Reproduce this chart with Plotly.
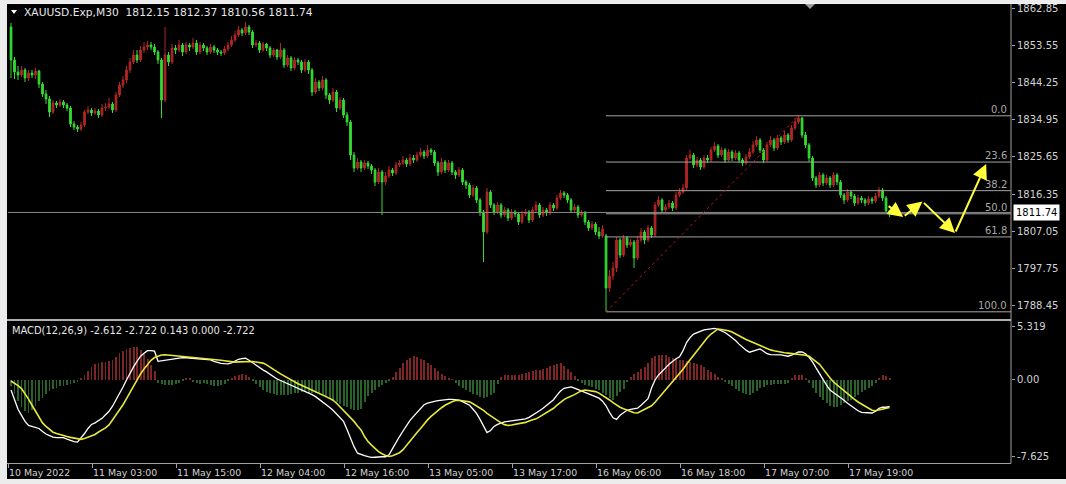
import plotly.graph_objects as go

W, H = 1066, 484

# ---------------- data ----------------
symbol = "XAUUSD.Exp,M30"
time_labels = ["10 May 2022", "11 May 03:00", "11 May 15:00", "12 May 04:00", "12 May 16:00",
               "13 May 05:00", "13 May 17:00", "16 May 06:00", "16 May 18:00", "17 May 07:00",
               "17 May 19:00"]
bars_per_label = 24

first_open = 1858.10
gap_opens = {170: 1805.85, 251: 1812.15}

closes = [
    1849.85, 1846.85, 1846.10, 1847.35, 1845.35, 1846.60, 1846.10, 1847.10, 1843.85, 1841.35,
    1840.10, 1836.85, 1839.10, 1838.60, 1839.35, 1838.60, 1837.85, 1833.85, 1833.10, 1832.60,
    1833.60, 1836.85, 1837.35, 1836.60, 1837.10, 1836.10, 1837.85, 1838.10, 1838.85, 1837.35,
    1841.10, 1843.60, 1844.85, 1847.35, 1849.35, 1851.10, 1849.85, 1852.35, 1853.10, 1853.60,
    1853.10, 1851.85, 1849.85, 1839.85, 1851.10, 1849.35, 1852.85, 1852.35, 1853.60, 1851.85,
    1853.60, 1853.10, 1854.10, 1851.85, 1853.60, 1852.85, 1851.85, 1853.10, 1852.35, 1851.85,
    1851.60, 1852.60, 1853.60, 1854.85, 1856.10, 1857.35, 1856.60, 1858.10, 1856.85, 1853.60,
    1854.10, 1852.35, 1853.85, 1852.85, 1851.10, 1852.35, 1850.60, 1852.35, 1848.60, 1850.35,
    1847.85, 1849.85, 1849.35, 1847.35, 1849.35, 1847.35, 1841.85, 1844.35, 1842.85, 1844.85,
    1841.10, 1839.85, 1841.85, 1837.85, 1839.85, 1836.10, 1834.35, 1826.10, 1822.85, 1824.35,
    1822.85, 1824.10, 1823.35, 1822.35, 1819.35, 1821.85, 1819.35, 1820.85, 1822.35, 1821.60,
    1823.60, 1824.10, 1824.85, 1823.85, 1825.35, 1824.85, 1826.10, 1826.85, 1825.85, 1827.35,
    1826.85, 1824.10, 1821.85, 1824.35, 1822.35, 1824.10, 1821.85, 1821.10, 1822.35, 1819.35,
    1818.60, 1816.10, 1817.85, 1814.85, 1811.85, 1806.85, 1816.85, 1813.60, 1811.85, 1813.60,
    1811.10, 1812.35, 1810.35, 1811.85, 1811.35, 1809.35, 1811.35, 1811.85, 1809.85, 1812.35,
    1813.60, 1811.10, 1812.35, 1811.60, 1813.60, 1812.85, 1815.35, 1816.60, 1816.10, 1814.85,
    1812.35, 1813.10, 1811.10, 1811.60, 1809.35, 1807.85, 1808.85, 1806.85, 1805.85, 1807.60,
    1792.85, 1795.85, 1797.85, 1804.85, 1801.10, 1805.35, 1803.60, 1804.35, 1800.35, 1804.85,
    1806.85, 1804.85, 1807.85, 1806.10, 1813.60, 1814.85, 1812.35, 1813.10, 1814.10, 1812.85,
    1816.10, 1816.85, 1817.85, 1825.35, 1826.10, 1823.60, 1824.85, 1823.10, 1825.35, 1824.85,
    1827.35, 1828.35, 1826.10, 1827.35, 1824.85, 1826.85, 1825.35, 1826.60, 1824.85, 1824.10,
    1825.60, 1826.85, 1828.60, 1829.85, 1827.35, 1824.85, 1828.60, 1829.85, 1827.85, 1830.35,
    1829.35, 1831.10, 1829.85, 1832.85, 1834.35, 1835.35, 1831.10, 1828.60, 1825.35, 1820.35,
    1818.60, 1821.10, 1819.10, 1820.35, 1818.60, 1821.10, 1819.35, 1816.10, 1814.85, 1816.85,
    1815.85, 1814.10, 1815.35, 1814.85, 1814.10, 1815.10, 1814.60, 1815.85, 1817.35, 1815.35,
    1812.15, 1811.74]

highs = [
    1859.10, 1850.60, 1848.35, 1848.35, 1847.85, 1847.35, 1847.35, 1847.85, 1847.35, 1844.35,
    1842.35, 1840.85, 1839.85, 1839.60, 1840.10, 1839.85, 1839.10, 1838.35, 1834.60, 1833.60,
    1834.35, 1837.35, 1838.35, 1837.85, 1837.85, 1837.60, 1838.85, 1839.10, 1840.35, 1839.35,
    1841.85, 1844.35, 1845.85, 1848.35, 1850.35, 1852.35, 1852.35, 1853.35, 1854.35, 1854.60,
    1854.35, 1853.85, 1852.35, 1850.35, 1858.10, 1851.85, 1853.85, 1853.60, 1854.85, 1854.10,
    1854.35, 1854.10, 1855.35, 1854.85, 1854.35, 1854.10, 1853.35, 1853.85, 1853.60, 1852.85,
    1852.35, 1853.35, 1854.35, 1855.85, 1857.10, 1858.35, 1857.85, 1859.35, 1858.60, 1857.35,
    1854.85, 1854.60, 1854.35, 1854.10, 1853.35, 1852.85, 1852.60, 1854.10, 1852.85, 1851.10,
    1850.85, 1850.60, 1850.35, 1849.85, 1850.10, 1849.85, 1847.85, 1845.35, 1844.85, 1845.85,
    1845.35, 1841.60, 1842.85, 1842.35, 1840.60, 1840.35, 1836.85, 1834.85, 1826.85, 1825.35,
    1824.85, 1824.85, 1824.60, 1823.85, 1822.85, 1822.85, 1822.35, 1821.85, 1823.35, 1822.85,
    1824.35, 1824.85, 1825.85, 1825.35, 1826.35, 1826.10, 1826.85, 1827.85, 1827.35, 1828.60,
    1827.85, 1827.35, 1824.60, 1825.35, 1824.85, 1824.85, 1824.60, 1822.35, 1823.10, 1822.85,
    1819.85, 1819.10, 1818.60, 1818.35, 1815.35, 1812.35, 1817.85, 1817.35, 1814.10, 1814.35,
    1814.10, 1813.10, 1812.85, 1812.60, 1812.35, 1811.85, 1812.10, 1812.60, 1812.35, 1813.10,
    1814.60, 1814.10, 1813.10, 1812.85, 1814.35, 1814.10, 1816.10, 1817.35, 1817.10, 1816.60,
    1815.35, 1813.85, 1813.60, 1812.35, 1812.10, 1809.85, 1809.60, 1809.35, 1808.10, 1808.60,
    1806.35, 1797.35, 1799.35, 1805.60, 1805.35, 1806.10, 1805.85, 1805.10, 1804.85, 1805.85,
    1807.85, 1807.35, 1808.60, 1808.35, 1814.35, 1815.85, 1815.35, 1813.85, 1814.85, 1814.60,
    1816.85, 1817.85, 1818.85, 1826.10, 1827.35, 1826.60, 1825.60, 1825.35, 1826.10, 1826.10,
    1828.10, 1829.35, 1828.85, 1828.10, 1827.85, 1827.60, 1827.35, 1827.35, 1827.10, 1825.35,
    1826.35, 1827.85, 1829.60, 1830.85, 1830.35, 1827.85, 1829.35, 1830.85, 1830.35, 1831.10,
    1830.85, 1832.10, 1831.60, 1833.60, 1835.35, 1835.90, 1835.60, 1831.85, 1829.10, 1825.85,
    1820.85, 1821.85, 1821.60, 1821.10, 1820.85, 1821.85, 1821.60, 1819.85, 1816.60, 1817.60,
    1817.35, 1816.35, 1816.10, 1815.85, 1815.35, 1815.85, 1815.60, 1816.60, 1818.10, 1817.85,
    1815.85, 1812.37]

lows = [
    1845.35, 1845.10, 1844.85, 1845.60, 1844.35, 1844.60, 1845.35, 1845.10, 1842.85, 1840.60,
    1838.85, 1835.60, 1836.35, 1837.85, 1838.10, 1837.85, 1837.10, 1833.10, 1832.35, 1831.85,
    1832.10, 1833.10, 1836.35, 1835.85, 1836.10, 1835.35, 1835.60, 1837.10, 1837.60, 1836.60,
    1836.85, 1840.60, 1842.85, 1844.10, 1846.60, 1848.85, 1849.10, 1849.35, 1851.60, 1852.35,
    1852.35, 1851.10, 1848.85, 1835.35, 1839.35, 1848.35, 1848.85, 1851.35, 1851.85, 1850.85,
    1851.35, 1852.10, 1852.60, 1851.10, 1851.35, 1852.10, 1851.10, 1851.35, 1851.60, 1851.10,
    1850.85, 1851.10, 1852.10, 1853.10, 1854.35, 1855.60, 1855.85, 1856.10, 1856.10, 1852.85,
    1853.10, 1851.60, 1851.85, 1852.10, 1850.35, 1850.60, 1849.85, 1850.10, 1847.85, 1848.10,
    1847.10, 1847.35, 1848.60, 1846.60, 1846.85, 1846.35, 1840.85, 1841.35, 1842.10, 1842.35,
    1840.10, 1838.85, 1839.35, 1836.85, 1837.35, 1835.35, 1833.35, 1824.85, 1821.85, 1822.35,
    1821.85, 1822.35, 1822.60, 1821.35, 1818.35, 1818.85, 1811.10, 1818.60, 1820.35, 1820.85,
    1821.10, 1823.10, 1823.60, 1823.10, 1823.35, 1824.10, 1824.35, 1825.60, 1825.10, 1825.35,
    1826.10, 1823.35, 1820.85, 1821.35, 1821.60, 1821.85, 1821.10, 1820.10, 1820.60, 1818.60,
    1817.60, 1815.35, 1815.60, 1814.10, 1810.85, 1799.35, 1806.35, 1812.85, 1811.10, 1811.35,
    1810.35, 1810.60, 1809.60, 1809.85, 1810.60, 1808.60, 1808.85, 1810.85, 1809.10, 1809.35,
    1811.85, 1810.35, 1810.60, 1810.85, 1811.10, 1812.10, 1812.35, 1814.85, 1815.35, 1814.10,
    1811.60, 1811.85, 1810.35, 1810.60, 1808.60, 1807.10, 1807.35, 1806.10, 1805.10, 1805.35,
    1786.90, 1791.85, 1794.85, 1796.85, 1800.35, 1800.60, 1802.85, 1803.10, 1797.85, 1799.85,
    1804.35, 1803.85, 1804.35, 1805.35, 1805.60, 1813.10, 1811.60, 1811.85, 1812.60, 1812.10,
    1812.35, 1815.60, 1816.35, 1817.35, 1824.85, 1822.85, 1823.10, 1822.35, 1822.60, 1824.10,
    1824.35, 1826.85, 1825.35, 1825.60, 1824.10, 1824.35, 1824.60, 1824.85, 1824.10, 1823.35,
    1823.60, 1825.10, 1826.35, 1828.10, 1826.60, 1824.10, 1824.35, 1828.10, 1827.10, 1827.35,
    1828.60, 1828.85, 1829.10, 1829.35, 1832.35, 1833.85, 1830.35, 1827.85, 1824.35, 1819.60,
    1817.85, 1818.10, 1818.35, 1818.60, 1817.85, 1818.10, 1818.60, 1815.35, 1813.85, 1814.35,
    1815.10, 1813.35, 1813.60, 1814.10, 1813.35, 1813.60, 1813.85, 1814.10, 1815.35, 1814.60,
    1811.60, 1810.56]

macd_line = [
    -1.0, -2.0, -2.9, -3.5, -4.1, -4.5, -4.6, -4.65, -4.8, -5.1,
    -5.35, -5.5, -5.65, -5.7, -5.7, -5.7, -5.85, -6.0, -6.1, -6.15,
    -5.75, -5.3, -4.8, -4.4, -4.25, -4.05, -3.8, -3.45, -3.1, -2.6,
    -2.0, -1.4, -0.7, 0.0, 0.7, 1.3, 1.85, 2.35, 2.65, 2.9,
    2.9, 2.85, 1.85, 1.9, 2.0, 2.05, 2.1, 2.15, 2.2, 2.22,
    2.2, 2.18, 2.17, 2.15, 2.12, 2.1, 2.07, 2.0, 1.85, 1.72,
    1.65, 1.62, 1.6, 1.7, 1.9, 2.05, 2.12, 2.15, 1.95, 1.7,
    1.45, 1.2, 1.0, 0.8, 0.55, 0.3, 0.1, -0.05, -0.2, -0.4,
    -0.55, -0.72, -0.85, -0.95, -1.1, -1.3, -1.45, -1.65, -1.9, -2.15,
    -2.4, -2.7, -3.0, -3.35, -3.7, -4.1, -4.9, -5.8, -6.6, -7.25,
    -7.4, -7.5, -7.6, -7.67, -7.65, -7.6, -7.6, -7.6, -7.4, -6.8,
    -6.15, -5.6, -5.05, -4.5, -4.0, -3.6, -3.2, -2.8, -2.45, -2.3,
    -2.18, -2.12, -2.05, -2.0, -1.97, -1.93, -1.93, -1.95, -2.0, -2.15,
    -2.3, -2.5, -2.9, -3.3, -3.9, -4.6, -5.2, -5.0, -4.6, -4.4,
    -4.25, -4.15, -4.1, -4.05, -4.0, -3.98, -3.92, -3.85, -3.7, -3.5,
    -3.25, -3.05, -2.8, -2.5, -2.25, -1.95, -1.5, -1.1, -0.82, -0.72,
    -0.68, -0.8, -0.95, -1.1, -1.25, -1.42, -1.55, -1.7, -1.8, -2.1,
    -2.55, -3.2, -3.75, -3.9, -3.5, -3.25, -3.0, -2.92, -2.87, -2.8,
    -2.5, -2.2, -1.85, -0.8, 0.0, 0.5, 0.9, 1.2, 1.55, 1.85,
    2.1, 2.3, 2.9, 3.7, 4.2, 4.55, 4.7, 4.85, 4.95, 5.02,
    5.08, 5.1, 5.0, 4.88, 4.7, 4.45, 4.2, 3.9, 3.55, 3.2,
    2.95, 2.75, 2.85, 2.98, 3.07, 2.85, 2.6, 2.5, 2.5, 2.5,
    2.48, 2.42, 2.35, 2.45, 2.65, 2.77, 2.77, 2.6, 2.25, 1.8,
    1.2, 0.6, 0.05, -0.5, -1.0, -1.25, -1.45, -1.7, -2.0, -2.3,
    -2.57, -2.8, -3.05, -3.2, -3.23, -3.25, -3.27, -3.1, -2.8, -2.7,
    -2.7, -2.612]

signal_line = [
    -0.1, -0.3, -0.55, -0.85, -1.35, -1.9, -2.5, -3.05, -3.65, -4.25,
    -4.6, -4.9, -5.17, -5.3, -5.42, -5.52, -5.6, -5.68, -5.77, -5.85,
    -5.88, -5.8, -5.68, -5.55, -5.4, -5.15, -4.95, -4.75, -4.45, -3.95,
    -3.5, -3.05, -2.45, -1.85, -1.2, -0.6, 0.0, 0.6, 1.1, 1.55,
    1.95, 2.22, 2.35, 2.47, 2.5, 2.47, 2.42, 2.38, 2.34, 2.32,
    2.28, 2.25, 2.22, 2.2, 2.17, 2.14, 2.1, 2.07, 2.03, 2.0,
    1.95, 1.9, 1.84, 1.79, 1.77, 1.79, 1.81, 1.83, 1.84, 1.83,
    1.78, 1.72, 1.67, 1.5, 1.25, 1.03, 0.83, 0.6, 0.4, 0.18,
    -0.05, -0.22, -0.38, -0.52, -0.68, -0.82, -0.95, -1.1, -1.3, -1.48,
    -1.65, -1.82, -2.0, -2.3, -2.65, -3.0, -3.35, -3.7, -4.1, -4.55,
    -4.95, -5.6, -6.1, -6.45, -6.8, -7.1, -7.3, -7.48, -7.57, -7.5,
    -7.35, -7.2, -6.9, -6.45, -6.0, -5.6, -5.2, -4.8, -4.35, -3.95,
    -3.6, -3.3, -3.0, -2.75, -2.5, -2.3, -2.15, -2.03, -2.0, -2.05,
    -2.1, -2.17, -2.35, -2.55, -2.8, -3.0, -3.3, -3.55, -3.8, -4.02,
    -4.25, -4.42, -4.5, -4.45, -4.4, -4.35, -4.3, -4.2, -4.07, -3.95,
    -3.85, -3.65, -3.45, -3.25, -3.02, -2.8, -2.5, -2.2, -1.95, -1.75,
    -1.62, -1.45, -1.25, -1.07, -1.0, -1.03, -1.08, -1.15, -1.3, -1.5,
    -1.75, -1.98, -2.25, -2.5, -2.7, -2.85, -3.0, -3.15, -3.25, -3.27,
    -3.1, -2.95, -2.75, -2.55, -2.2, -1.8, -1.4, -1.0, -0.6, -0.2,
    0.2, 0.6, 1.05, 1.55, 2.0, 2.45, 2.9, 3.35, 3.75, 4.2,
    4.55, 4.8, 5.05, 5.0, 4.95, 4.88, 4.75, 4.55, 4.38, 4.2,
    4.0, 3.85, 3.7, 3.52, 3.38, 3.22, 3.1, 2.98, 2.9, 2.82,
    2.75, 2.7, 2.66, 2.62, 2.6, 2.58, 2.55, 2.45, 2.35, 2.1,
    1.85, 1.55, 1.1, 0.6, 0.2, -0.2, -0.5, -0.8, -1.08, -1.37,
    -1.65, -1.92, -2.18, -2.4, -2.6, -2.8, -3.0, -3.05, -2.95, -2.85,
    -2.77, -2.722]

osma = [
    -0.6, -1.4, -2.1, -2.7, -3.1, -3.3, -3.0, -2.6, -2.1, -1.75,
    -1.4, -1.05, -0.9, -0.75, -0.6, -0.55, -0.45, -0.4, -0.3, -0.2,
    0.2, 0.5, 0.9, 1.3, 1.55, 1.65, 1.75, 1.8, 1.9, 2.0,
    2.3, 2.65, 2.85, 3.05, 3.2, 3.28, 3.3, 3.0, 2.6, 2.1,
    1.5, 0.9, -0.3, -0.4, -0.5, -0.5, -0.45, -0.4, -0.3, -0.15,
    0.2, 0.15, -0.2, -0.3, -0.35, -0.3, -0.35, -0.45, -0.55, -0.6,
    -0.5, -0.35, -0.15, 0.1, 0.35, 0.5, 0.55, 0.5, 0.3, -0.1,
    -0.4, -0.7, -0.95, -1.15, -1.3, -1.4, -1.45, -1.5, -1.5, -1.45,
    -1.4, -1.3, -1.25, -1.2, -1.2, -1.25, -1.25, -1.3, -1.3, -1.45,
    -1.65, -1.85, -2.0, -2.2, -2.4, -2.55, -2.7, -2.85, -2.95, -3.0,
    -2.9, -2.2, -1.6, -1.25, -0.95, -0.7, -0.5, -0.3, -0.05, 0.3,
    0.75, 1.2, 1.65, 1.95, 2.2, 2.33, 2.25, 2.1, 1.95, 1.7,
    1.45, 1.2, 0.9, 0.6, 0.4, 0.2, 0.05, -0.25, -0.55, -0.8,
    -1.0, -1.2, -1.35, -1.5, -1.7, -1.83, -1.7, -1.5, -1.25, -0.4,
    0.3, 0.5, 0.5, 0.45, 0.5, 0.5, 0.55, 0.65, 0.75, 0.85,
    0.95, 1.0, 1.1, 1.2, 1.35, 1.45, 1.6, 1.67, 1.4, 1.05,
    0.75, 0.35, -0.05, -0.3, -0.45, -0.55, -0.7, -0.85, -1.0, -1.25,
    -1.5, -1.8, -2.0, -1.6, -1.2, -0.9, -0.2, 0.3, 0.55, 0.8,
    1.05, 1.3, 1.7, 2.2, 2.35, 2.45, 2.5, 2.45, 2.3, 2.2,
    2.1, 2.0, 1.95, 1.85, 1.75, 1.65, 1.55, 1.45, 1.25, 1.0,
    0.8, 0.55, 0.3, 0.1, -0.2, -0.4, -0.6, -0.85, -1.1, -1.3,
    -1.4, -1.5, -1.3, -1.05, -0.8, -0.65, -0.5, -0.45, -0.42, -0.4,
    -0.4, -0.35, -0.3, 0.2, 0.45, 0.5, 0.45, 0.2, -0.3, -0.8,
    -1.25, -1.65, -2.0, -2.3, -2.55, -2.7, -2.65, -2.5, -2.3, -2.1,
    -1.95, -1.7, -1.45, -1.2, -0.95, -0.75, -0.55, -0.25, 0.2, 0.45,
    0.4, 0.143]

price_ticks = [1862.85, 1853.55, 1844.25, 1834.95, 1825.65, 1816.35, 1807.05, 1797.75, 1788.45]
macd_ticks = [5.319, 0.0, -7.625]
macd_tick_text = ["5.319", "0.00", "-7.625"]
fib_levels = [0.0, 23.6, 38.2, 50.0, 61.8, 100.0]

# hand-drawn forecast path (bar position, price)
forecast_bars = [250.3, 254.9, 260.4, 269.7, 278.6]
forecast_prices = [1813.6, 1810.6, 1814.5, 1806.6, 1823.85]

# ---------------- build ----------------
n = min(len(closes), len(highs), len(lows), len(macd_line), len(signal_line), len(osma))
closes, highs, lows = closes[:n], highs[:n], lows[:n]
macd_line, signal_line, osma = macd_line[:n], signal_line[:n], osma[:n]
idx = list(range(n))
opens = [first_open] + closes[:-1]
for k, v in gap_opens.items():
    if k < n:
        opens[k] = v
highs = [max(h, o, c) for h, o, c in zip(highs, opens, closes)]
lows = [min(l, o, c) for l, o, c in zip(lows, opens, closes)]


def px(x):
    return x / W


def py(y):
    return 1 - y / H


FONT = "DejaVu Sans"
TXT = "#d2d2d2"
GRAYLINE = "#a0a0a0"
UP = "#b22626"
DOWN = "#34dc34"

x_min, x_max = -0.86, 285.7

fig = go.Figure()
fig.add_trace(go.Candlestick(
    x=idx, open=opens, high=highs, low=lows, close=closes,
    increasing=dict(line=dict(color=UP, width=1), fillcolor=UP),
    decreasing=dict(line=dict(color=DOWN, width=1), fillcolor=DOWN),
    whiskerwidth=0, xaxis="x", yaxis="y", hoverinfo="skip"))

hist_colors = ["#7e2626" if v >= 0 else "#2a632a" for v in osma]
fig.add_trace(go.Bar(x=idx, y=osma, marker=dict(color=hist_colors, line=dict(width=0)),
                     width=0.28, xaxis="x2", yaxis="y2", hoverinfo="skip"))
fig.add_trace(go.Scatter(x=idx, y=macd_line, mode="lines", line=dict(color="white", width=1.3),
                         xaxis="x2", yaxis="y2", hoverinfo="skip"))
fig.add_trace(go.Scatter(x=idx, y=signal_line, mode="lines", line=dict(color="#e8e83a", width=1.6),
                         xaxis="x2", yaxis="y2", hoverinfo="skip"))

shapes = []
# chart background and frame
shapes.append(dict(type="rect", xref="paper", yref="paper", x0=px(7), x1=1, y0=py(479), y1=py(3),
                   fillcolor="black", line=dict(width=0), layer="below"))
shapes.append(dict(type="line", xref="paper", yref="paper", x0=px(7), x1=1, y0=py(3.5), y1=py(3.5),
                   line=dict(color="#f4f4f4", width=1)))
shapes.append(dict(type="line", xref="paper", yref="paper", x0=px(1011), x1=px(1011), y0=py(463.5), y1=py(4),
                   line=dict(color=GRAYLINE, width=1)))
shapes.append(dict(type="line", xref="paper", yref="paper", x0=px(7), x1=px(1011), y0=py(320), y1=py(320),
                   line=dict(color="#b0b0b0", width=2)))
shapes.append(dict(type="line", xref="paper", yref="paper", x0=px(7), x1=px(1011), y0=py(463.5), y1=py(463.5),
                   line=dict(color=GRAYLINE, width=1)))
# header triangle and shift marker
shapes.append(dict(type="path", xref="paper", yref="paper",
                   path=f"M {px(11)},{py(10)} L {px(17)},{py(10)} L {px(14)},{py(14)} Z",
                   fillcolor="white", line=dict(width=0)))
shapes.append(dict(type="path", xref="paper", yref="paper",
                   path=f"M {px(805)},{py(4)} L {px(815)},{py(4)} L {px(810)},{py(9)} Z",
                   fillcolor="#9a9a9a", line=dict(width=0)))
# bid line
shapes.append(dict(type="line", xref="x domain", yref="y", x0=0, x1=1, y0=closes[-1], y1=closes[-1],
                   line=dict(color="#8a8a8a", width=1)))

# Fibonacci from the swing low to the following swing high
i_low = min(range(n), key=lambda i: lows[i])
i_high = max(range(i_low, n), key=lambda i: highs[i])
p_low, p_high = lows[i_low], highs[i_high]
annotations = []
for lvl in fib_levels:
    p = p_high - (p_high - p_low) * lvl / 100.0
    shapes.append(dict(type="line", xref="x", yref="y", x0=i_low, x1=x_max, y0=p, y1=p,
                       line=dict(color="#a4a4a4", width=1)))
    annotations.append(dict(xref="paper", yref="y", x=px(1009), y=p, xanchor="right", yanchor="bottom",
                            text=f"{lvl:.1f}", showarrow=False, yshift=-1,
                            font=dict(family=FONT, size=10, color="#a8a8a8")))
shapes.append(dict(type="line", xref="x", yref="y", x0=i_low, x1=i_high, y0=p_low, y1=p_high,
                   line=dict(color="#b01818", width=1, dash="dot")))

# forecast arrows
for k in range(1, len(forecast_bars)):
    annotations.append(dict(xref="x", yref="y", axref="x", ayref="y",
                            x=forecast_bars[k], y=forecast_prices[k],
                            ax=forecast_bars[k - 1], ay=forecast_prices[k - 1],
                            text="", showarrow=True, arrowhead=2, arrowsize=1.5, arrowwidth=2,
                            arrowcolor="#ffff3a", standoff=0, startstandoff=0))

# header texts
last = n - 1
annotations.append(dict(xref="paper", yref="paper", x=px(22), y=py(12.5), xanchor="left", yanchor="middle",
                        showarrow=False,
                        text=f"{symbol}\u00a0\u00a0{opens[last]:.2f} {highs[last]:.2f} {lows[last]:.2f} {closes[last]:.2f}",
                        font=dict(family=FONT, size=10.7, color="#e6e6e6")))
annotations.append(dict(xref="paper", yref="paper", x=px(10), y=py(330), xanchor="left", yanchor="middle",
                        showarrow=False,
                        text=f"MACD(12,26,9) {macd_line[last]:.3f} {signal_line[last]:.3f} {osma[last]:.3f} 0.000 {signal_line[last]:.3f}",
                        font=dict(family=FONT, size=9.9, color="#e6e6e6")))
# last price tag
annotations.append(dict(xref="paper", yref="y", x=px(1013), y=closes[last], xanchor="left", yanchor="middle",
                        showarrow=False, text=f"{closes[last]:.2f}", bgcolor="white", borderpad=2,
                        font=dict(family=FONT, size=10, color="black")))
# time labels (left-aligned at their tick, as in the terminal)
tick_bars = [k * bars_per_label - 0.8 for k in range(len(time_labels))]
for tb, lab in zip(tick_bars, time_labels):
    xp = 8 + (tb - x_min) / (x_max - x_min) * (1011 - 8)
    annotations.append(dict(xref="paper", yref="paper", x=px(xp - 1), y=py(472.5), xanchor="left",
                            yanchor="middle", showarrow=False, text=lab,
                            font=dict(family=FONT, size=9.4, color=TXT)))

axis_common = dict(showgrid=False, zeroline=False, showline=False)
fig.update_layout(
    width=W, height=H, margin=dict(l=0, r=0, t=0, b=0, pad=0),
    paper_bgcolor="#ececec", plot_bgcolor="black", showlegend=False,
    bargap=0, hovermode=False,
    xaxis=dict(domain=[px(8), px(1011)], range=[x_min, x_max], anchor="y", showticklabels=False,
               rangeslider=dict(visible=False), **axis_common),
    yaxis=dict(domain=[py(318), py(4)], range=[1785.35, 1863.85], anchor="x", side="right",
               tickvals=price_ticks, ticktext=[f"{t:.2f}" for t in price_ticks],
               ticks="outside", ticklen=3, tickcolor=GRAYLINE,
               tickfont=dict(family=FONT, size=10, color=TXT), **axis_common),
    xaxis2=dict(domain=[px(8), px(1011)], range=[x_min, x_max], anchor="y2", matches="x",
                tickvals=tick_bars, showticklabels=False, ticks="outside", ticklen=4, tickcolor=GRAYLINE,
                **axis_common),
    yaxis2=dict(domain=[py(463), py(322)], range=[-8.22, 5.74], anchor="x2", side="right",
                tickvals=macd_ticks, ticktext=macd_tick_text,
                ticks="outside", ticklen=3, tickcolor=GRAYLINE,
                tickfont=dict(family=FONT, size=10, color=TXT), **axis_common),
    shapes=shapes, annotations=annotations,
)

fig.write_html("out.html", config={"displayModeBar": False},
               post_script="document.body.style.margin='0';document.body.style.padding='0';")
